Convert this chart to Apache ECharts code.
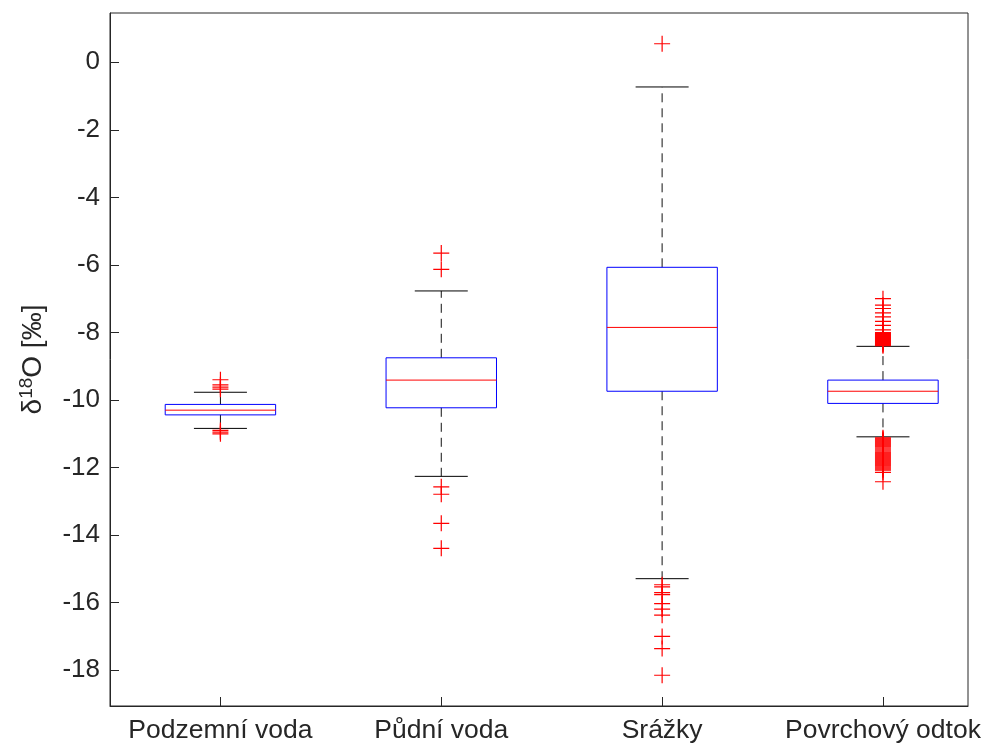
<!DOCTYPE html>
<html>
<head>
<meta charset="utf-8">
<script src="https://cdn.jsdelivr.net/npm/echarts@6/dist/echarts.min.js"></script>
<style>
html,body{margin:0;padding:0;background:#fff;}
#c{width:989px;height:751px;}
</style>
</head>
<body>
<div id="c"></div>
<script>
// ---- data ----
const categories = ['Podzemní voda', 'Půdní voda', 'Srážky', 'Povrchový odtok'];
// [lower whisker, Q1, median, Q3, upper whisker]
const boxPodzemni = [-10.84, -10.44, -10.30, -10.13, -9.77];
const boxPudni = [-12.26, -10.23, -9.41, -8.75, -6.77];
const boxSrazky = [-15.29, -9.74, -7.85, -6.07, -0.73];
const boxOdtok = [-11.09, -10.10, -9.74, -9.41, -8.41];

const outPodzemni = [-9.40, -9.55, -9.62, -9.68, -10.90, -10.95, -11.00];
const outPudni = [-5.65, -6.13, -12.57, -12.79, -13.65, -14.39];
const outSrazky = [0.55, -15.47, -15.53, -15.70, -15.76, -16.03, -16.19, -16.37, -17.00, -17.36, -18.15];
const outOdtok = [-7.00, -7.19, -7.29, -7.42, -7.54, -7.67, -7.79, -7.92,
  -8.00, -8.03, -8.06, -8.09, -8.12, -8.15, -8.18, -8.21, -8.24, -8.27, -8.30, -8.33, -8.36, -8.39,
  -11.12, -11.15, -11.18, -11.21, -11.24, -11.27, -11.30, -11.33, -11.36, -11.39, -11.42, -11.45,
  -11.48, -11.51, -11.54, -11.57, -11.60, -11.63, -11.66, -11.69, -11.72, -11.75, -11.78, -11.81,
  -11.84, -11.87, -11.90, -11.93, -11.96, -11.99, -12.02, -12.05, -12.08, -12.14, -12.42];

const yTicks = [-18, -16, -14, -12, -10, -8, -6, -4, -2, 0];

// ---- build ----
const boxes = [boxPodzemni, boxPudni, boxSrazky, boxOdtok];
const outliers = [outPodzemni, outPudni, outSrazky, outOdtok];
const boxData = boxes.map((b, i) => [i + 1].concat(b));
const outData = [];
outliers.forEach((arr, i) => arr.forEach(v => outData.push([i + 1, v])));

const BOX_HALF = 0.25, CAP_HALF = 0.12;
const FONT = 'Liberation Sans, Arial, Helvetica, sans-serif';
const AX = '#262626';

function renderBox(params, api) {
  const x = api.value(0);
  const lo = api.value(1), q1 = api.value(2), med = api.value(3), q3 = api.value(4), hi = api.value(5);
  const tl = api.coord([x - BOX_HALF, q3]);
  const br = api.coord([x + BOX_HALF, q1]);
  const mL = api.coord([x - BOX_HALF, med]);
  const mR = api.coord([x + BOX_HALF, med]);
  const cHi = api.coord([x, hi]);
  const cLo = api.coord([x, lo]);
  const cQ3 = api.coord([x, q3]);
  const cQ1 = api.coord([x, q1]);
  const capHiL = api.coord([x - CAP_HALF, hi]);
  const capHiR = api.coord([x + CAP_HALF, hi]);
  const capLoL = api.coord([x - CAP_HALF, lo]);
  const capLoR = api.coord([x + CAP_HALF, lo]);
  const dash = {stroke: '#111', lineWidth: 1, lineDash: [9, 6]};
  const solid = {stroke: '#000', lineWidth: 1};
  return {
    type: 'group',
    children: [
      {type: 'line', shape: {x1: cQ3[0], y1: cQ3[1], x2: cHi[0], y2: cHi[1]}, style: dash},
      {type: 'line', shape: {x1: cQ1[0], y1: cQ1[1], x2: cLo[0], y2: cLo[1]}, style: dash},
      {type: 'line', shape: {x1: capHiL[0], y1: capHiL[1], x2: capHiR[0], y2: capHiR[1]}, style: solid},
      {type: 'line', shape: {x1: capLoL[0], y1: capLoL[1], x2: capLoR[0], y2: capLoR[1]}, style: solid},
      {type: 'rect', shape: {x: tl[0], y: tl[1], width: br[0] - tl[0], height: br[1] - tl[1]},
        style: {fill: 'none', stroke: '#0000ff', lineWidth: 1}},
      {type: 'line', shape: {x1: mL[0], y1: mL[1], x2: mR[0], y2: mR[1]}, style: {stroke: '#ff0000', lineWidth: 1}}
    ]
  };
}

const chart = echarts.init(document.getElementById('c'), null, {renderer: 'canvas'});
chart.setOption({
  backgroundColor: '#ffffff',
  animation: false,
  grid: {left: 110, right: 21, top: 13, bottom: 45, show: true, borderColor: AX, borderWidth: 1, backgroundColor: '#fff'},
  xAxis: {
    type: 'value', min: 0.5, max: 4.385,
    axisLine: {show: true, onZero: false, lineStyle: {color: AX, width: 1}},
    axisTick: {show: true, inside: true, length: 9, customValues: [1, 2, 3, 4], lineStyle: {color: AX}},
    axisLabel: {show: true, customValues: [1, 2, 3, 4], formatter: v => categories[Math.round(v) - 1],
      color: AX, fontFamily: FONT, fontSize: 26.5, margin: 11},
    splitLine: {show: false}
  },
  yAxis: {
    type: 'value', min: -19.06, max: 1.46,
    name: '{n|δ}{s|18}{n|O [‰]}',
    nameLocation: 'middle', nameRotate: 90, nameGap: 61,
    nameTextStyle: {
      color: AX, fontFamily: FONT,
      rich: {
        n: {fontSize: 28, lineHeight: 32, fontFamily: FONT, color: AX},
        s: {fontSize: 19, lineHeight: 19, verticalAlign: 'top', fontFamily: FONT, color: AX}
      }
    },
    axisLine: {show: true, onZero: false, lineStyle: {color: AX, width: 1}},
    axisTick: {show: true, inside: true, length: 9, customValues: yTicks, lineStyle: {color: AX}},
    axisLabel: {show: true, customValues: yTicks, color: AX, fontFamily: FONT, fontSize: 26, margin: 10},
    splitLine: {show: false}
  },
  series: [
    {
      type: 'custom', name: 'boxes', renderItem: renderBox, data: boxData,
      encode: {x: 0, y: [1, 2, 3, 4, 5]}, clip: true, z: 2
    },
    {
      type: 'scatter', name: 'outliers', data: outData, z: 3,
      symbol: 'path://M0,8L16,8M8,0L8,16', symbolSize: 16,
      itemStyle: {color: 'rgba(0,0,0,0)', borderColor: '#ff0000', borderWidth: 1.2, opacity: 1},
      emphasis: {disabled: true}
    }
  ]
});
</script>
</body>
</html>
